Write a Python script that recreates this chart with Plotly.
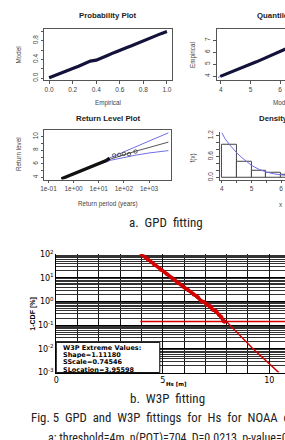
import plotly.graph_objects as go

W, H = 285, 440

# ---------------- data ----------------
# a. GPD fitting - probability plot
pp_empirical = [0.0, 0.05, 0.1, 0.15, 0.2, 0.25, 0.3, 0.35, 0.4, 0.45, 0.5, 0.55, 0.6, 0.65, 0.7, 0.75, 0.8, 0.85, 0.9, 0.95, 1.0]
pp_model = [0.01, 0.055, 0.1, 0.15, 0.205, 0.255, 0.31, 0.365, 0.385, 0.43, 0.49, 0.545, 0.6, 0.645, 0.69, 0.745, 0.8, 0.85, 0.9, 0.95, 0.995]
pp_diag = [0.0, 1.0]
pp_ticks = [0.0, 0.2, 0.4, 0.6, 0.8, 1.0]
pp_ylabels = [0.0, 0.4, 0.8]

# quantile plot
qq_model = [3.98, 4.2, 4.45, 4.7, 4.95, 5.2, 5.45, 5.7, 5.95, 6.2]
qq_empirical = [3.99, 4.2, 4.46, 4.71, 4.97, 5.2, 5.47, 5.72, 6.0, 6.28]
qq_diag = [3.9, 6.3]

# return level plot
rl_period = [0.33, 0.5, 0.7, 1.0, 1.5, 2.2, 3.2, 4.7, 7.0, 10, 14, 20, 27]
rl_level = [3.81, 4.07, 4.3, 4.53, 4.8, 5.07, 5.33, 5.58, 5.8, 6.02, 6.25, 6.5, 6.85]
rl_tail_period = [41, 65, 100, 160, 290]
rl_tail_level = [7.24, 7.33, 7.48, 7.43, 7.81]
rl_fit_period = [0.33, 1, 3.2, 10, 32, 100, 316, 1000, 5900]
rl_fit = [3.8, 4.55, 5.35, 6.05, 6.75, 7.35, 7.9, 8.4, 9.2]
rl_upper = [3.8, 4.58, 5.4, 6.15, 6.95, 7.75, 8.6, 9.35, 10.55]
rl_lower = [3.8, 4.52, 5.3, 5.95, 6.55, 6.95, 7.3, 7.6, 7.95]

# density plot
hist_centers = [4.25, 4.75, 5.25, 5.75, 6.25]
hist_density = [0.93, 0.46, 0.19, 0.14, 0.09]
dens_x = [4.0, 4.1, 4.25, 4.4, 4.5, 4.65, 4.8, 5.0, 5.25, 5.5, 5.75, 6.0, 6.2]
dens_y = [1.28, 1.12, 0.95, 0.8, 0.71, 0.59, 0.48, 0.35, 0.24, 0.16, 0.11, 0.08, 0.06]

# b. W3P fitting
w3p_hs = [4.0, 4.3, 4.6, 4.9, 5.2, 5.45, 5.7, 6.0, 6.2, 6.45, 6.65, 6.8, 6.95, 7.1, 7.25, 7.35, 7.5, 7.65, 7.75, 7.85, 7.9]
w3p_pct = [98, 60, 36, 22, 14, 9.5, 6.2, 4.0, 3.0, 2.0, 1.5, 1.05, 0.95, 0.72, 0.62, 0.45, 0.40, 0.27, 0.22, 0.15, 0.14]
w3p_fit_hs = [3.96, 5.4, 6.8, 8.0, 9.2, 10.45]
w3p_fit_pct = [100, 10.5, 1.05, 0.14, 0.011, 0.001]
w3p_level_hs = [3.95, 10.74]
w3p_level_pct = [0.142, 0.142]
w3p_yticks = [1e-3, 1e-2, 1e-1, 1, 10, 100]
w3p_yticktext = ["10<sup>-3</sup>", "10<sup>-2</sup>", "10<sup>-1</sup>", "10<sup>0</sup>", "10<sup>1</sup>", "10<sup>2</sup>"]
w3p_xticks = [0, 5, 10]
w3p_legend = ["W3P Extreme Values:", "Shape=1.11180", "SScale=0.74546", "SLocation=3.95598"]

# ---------------- helpers ----------------
def fx(p):
    return p / W

def fy(p):
    return 1 - p / H

RF = "Liberation Sans, Arial, sans-serif"
DATA = "#12123a"
BLUE = "#6f6fe6"
RED = "#d40000"
AX = "#555555"
TICKF = dict(family=RF, size=6.5, color="#444444")

fig = go.Figure()

# panel A
fig.add_trace(go.Scatter(x=pp_diag, y=pp_diag, mode="lines", line=dict(color=BLUE, width=1), xaxis="x", yaxis="y"))
fig.add_trace(go.Scatter(x=pp_empirical, y=pp_model, mode="lines", line=dict(color=DATA, width=3.2), xaxis="x", yaxis="y"))
# panel B
fig.add_trace(go.Scatter(x=qq_diag, y=qq_diag, mode="lines", line=dict(color=BLUE, width=1), xaxis="x2", yaxis="y2"))
fig.add_trace(go.Scatter(x=qq_model, y=qq_empirical, mode="lines", line=dict(color=DATA, width=3.2), xaxis="x2", yaxis="y2"))
# panel C
fig.add_trace(go.Scatter(x=rl_fit_period, y=rl_upper, mode="lines", line=dict(color=BLUE, width=1), xaxis="x3", yaxis="y3"))
fig.add_trace(go.Scatter(x=rl_fit_period, y=rl_lower, mode="lines", line=dict(color=BLUE, width=1), xaxis="x3", yaxis="y3"))
fig.add_trace(go.Scatter(x=rl_fit_period, y=rl_fit, mode="lines", line=dict(color="#555555", width=1), xaxis="x3", yaxis="y3"))
fig.add_trace(go.Scatter(x=rl_period, y=rl_level, mode="lines", line=dict(color="#111111", width=3.2), xaxis="x3", yaxis="y3"))
fig.add_trace(go.Scatter(x=rl_tail_period, y=rl_tail_level, mode="markers",
                         marker=dict(symbol="circle-open", size=3.5, color="#333333", line=dict(width=0.8)),
                         xaxis="x3", yaxis="y3"))
# panel D
fig.add_trace(go.Bar(x=hist_centers, y=hist_density, width=0.5, marker=dict(color="white", line=dict(color="#444444", width=1)),
                     xaxis="x4", yaxis="y4"))
fig.add_trace(go.Scatter(x=dens_x, y=dens_y, mode="lines", line=dict(color=BLUE, width=1), xaxis="x4", yaxis="y4"))
# W3P
fig.add_trace(go.Scatter(x=w3p_level_hs, y=w3p_level_pct, mode="lines", line=dict(color=RED, width=1.5), xaxis="x5", yaxis="y5"))
fig.add_trace(go.Scatter(x=w3p_fit_hs, y=w3p_fit_pct, mode="lines", line=dict(color=RED, width=1.5), xaxis="x5", yaxis="y5"))
fig.add_trace(go.Scatter(x=w3p_hs, y=w3p_pct, mode="lines+markers", line=dict(color=RED, width=3.5),
                         marker=dict(color=RED, size=4), xaxis="x5", yaxis="y5"))

MINOR = dict(ticks="outside", ticklen=3, tickcolor=AX, tickwidth=0.8, showgrid=False)

def raxis(minor_vals=None, **kw):
    d = dict(showgrid=False, zeroline=False, showline=True, linecolor=AX, linewidth=0.8,
             ticks="outside", ticklen=3, tickcolor=AX, tickwidth=0.8, tickfont=TICKF, fixedrange=True)
    if minor_vals is not None:
        m = dict(MINOR)
        m["tickvals"] = minor_vals
        d["minor"] = m
    d.update(kw)
    return d

layout = dict(
    width=W, height=H, margin=dict(l=0, r=0, t=0, b=0), showlegend=False,
    plot_bgcolor="white", paper_bgcolor="white", bargap=0,
    xaxis=raxis(domain=[fx(41), fx(170)], range=[-0.04, 1.04], anchor="y", mirror=True,
                tickvals=pp_ticks, tickformat=".1f"),
    yaxis=raxis(minor_vals=pp_ticks, domain=[fy(76), fy(24)], range=[-0.04, 1.04], anchor="x", mirror=True,
                tickangle=-90, tickvals=pp_ylabels, tickformat=".1f"),
    xaxis2=raxis(domain=[fx(216), 1.0], range=[3.867, 6.167], anchor="y2", mirror=True,
                 tickvals=[4, 5, 6]),
    yaxis2=raxis(domain=[fy(76), fy(24)], range=[3.68, 7.9], anchor="x2", tickangle=-90,
                 tickvals=[4, 5, 6, 7]),
    xaxis3=raxis(domain=[fx(41), fx(169)], type="log", range=[-1.16, 3.86], anchor="y3", mirror=True,
                 tickvals=[0.1, 1, 10, 100, 1000], ticktext=["1e-01", "1e+00", "1e+01", "1e+02", "1e+03"]),
    yaxis3=raxis(minor_vals=[5, 7, 9], domain=[fy(178), fy(127)], range=[3.7, 11.0], anchor="x3", mirror=True,
                 tickangle=-90, tickvals=[4, 6, 8, 10]),
    xaxis4=raxis(minor_vals=[4.5, 5.5], domain=[fx(219), 1.0], range=[3.933, 6.133], anchor="y4",
                 tickvals=[4, 5, 6]),
    yaxis4=raxis(minor_vals=[0.2, 0.4, 0.8, 1.0], domain=[fy(178), fy(129)], range=[-0.054, 1.31], anchor="x4",
                 tickangle=-90, tickvals=[0.0, 0.6, 1.2], tickformat=".1f"),
    xaxis5=dict(domain=[fx(53), 1.0], range=[0, 10.74], anchor="y5", showgrid=True, gridcolor="#111111", gridwidth=1,
                zeroline=False, showline=True, linecolor="black", linewidth=1, ticks="",
                tickvals=w3p_xticks,
                minor=dict(tickvals=list(range(0, 11)), showgrid=True, gridcolor="#111111", gridwidth=1, ticks=""),
                tickfont=dict(family="DejaVu Sans", size=8, color="black"), fixedrange=True),
    yaxis5=dict(domain=[fy(376), fy(254.5)], type="log", range=[-3, 2], anchor="x5", showgrid=True,
                gridcolor="#000000", gridwidth=1.2, zeroline=False, showline=True, linecolor="black", linewidth=1,
                ticks="", tickvals=w3p_yticks, ticktext=w3p_yticktext,
                tickfont=dict(family="DejaVu Sans", size=8, color="black"),
                minor=dict(tickvals=[m * d for d in [1e-3, 1e-2, 1e-1, 1, 10] for m in range(2, 10)],
                           showgrid=True, gridcolor="#333333", gridwidth=0.8, ticks=""),
                fixedrange=True),
)
fig.update_layout(**layout)

ann = []
def text(x, y, s, size, color="#222222", family=RF, bold=False, angle=0, xanchor="center", yanchor="middle", height=None):
    if bold:
        s = "<b>" + s + "</b>"
    a = dict(x=fx(x), y=fy(y), xref="paper", yref="paper", text=s, showarrow=False,
             font=dict(size=size, color=color, family=family), textangle=angle,
             xanchor=xanchor, yanchor=yanchor)
    if height is not None:
        a["height"] = height
    ann.append(a)

# R panel titles / labels
text(105.5, 10, "Probability Plot", 7.8, "#222222", bold=True)
text(281, 10, "Quantile Plot", 7.8, "#222222", bold=True)
text(105.5, 115, "Return Level Plot", 7.8, "#222222", bold=True)
text(281, 115, "Density Plot", 7.8, "#222222", bold=True)
text(105.5, 99, "Empirical", 6.3, "#444444")
text(281, 99, "Model", 6.3, "#444444")
text(15, 50, "Model", 6.3, "#444444", angle=-90)
text(191, 50, "Empirical", 6.3, "#444444", angle=-90)
text(105.5, 203, "Return period (years)", 6.3, "#444444")
text(14, 152, "Return level", 6.3, "#444444", angle=-90)
text(192, 156, "f(x)", 6.3, "#444444", angle=-90)
text(281, 204, "x", 6.3, "#444444")

# captions
CF = "Liberation Sans Narrow, Roboto Condensed, Liberation Sans, sans-serif"
text(164, 222, "a.  GPD  fitting", 13, "#222222", family=CF)
text(166, 403, "b.  W3P  fitting", 13, "#222222", family=CF)
text(25, 422, "Fig. 5  GPD  and  W3P  fittings  for  Hs  for  NOAA  data", 12.8, "#222222", family=CF, xanchor="left")
text(43, 434, "a: threshold=4m, n(POT)=704, D=0.0213, p-value=0.95", 12, "#222222", family=CF, xanchor="left", yanchor="top")

# W3P titles
text(30, 316, "1-CDF [%]", 7, "black", bold=True, angle=-90)
text(175, 388, "Hs [m]", 5.5, "black", family="DejaVu Sans", bold=True)

# W3P legend box text
for i, s in enumerate(w3p_legend):
    text(58, 350.3 + i * 7.6, s, 6.5, "black", family="DejaVu Sans", bold=True, xanchor="left", height=7.5)

fig.update_layout(annotations=ann)
fig.add_shape(type="rect", xref="paper", yref="paper", x0=fx(53), x1=fx(158), y0=fy(376), y1=fy(345),
              fillcolor="white", line=dict(color="black", width=1), layer="above")

fig.write_html("out.html")
